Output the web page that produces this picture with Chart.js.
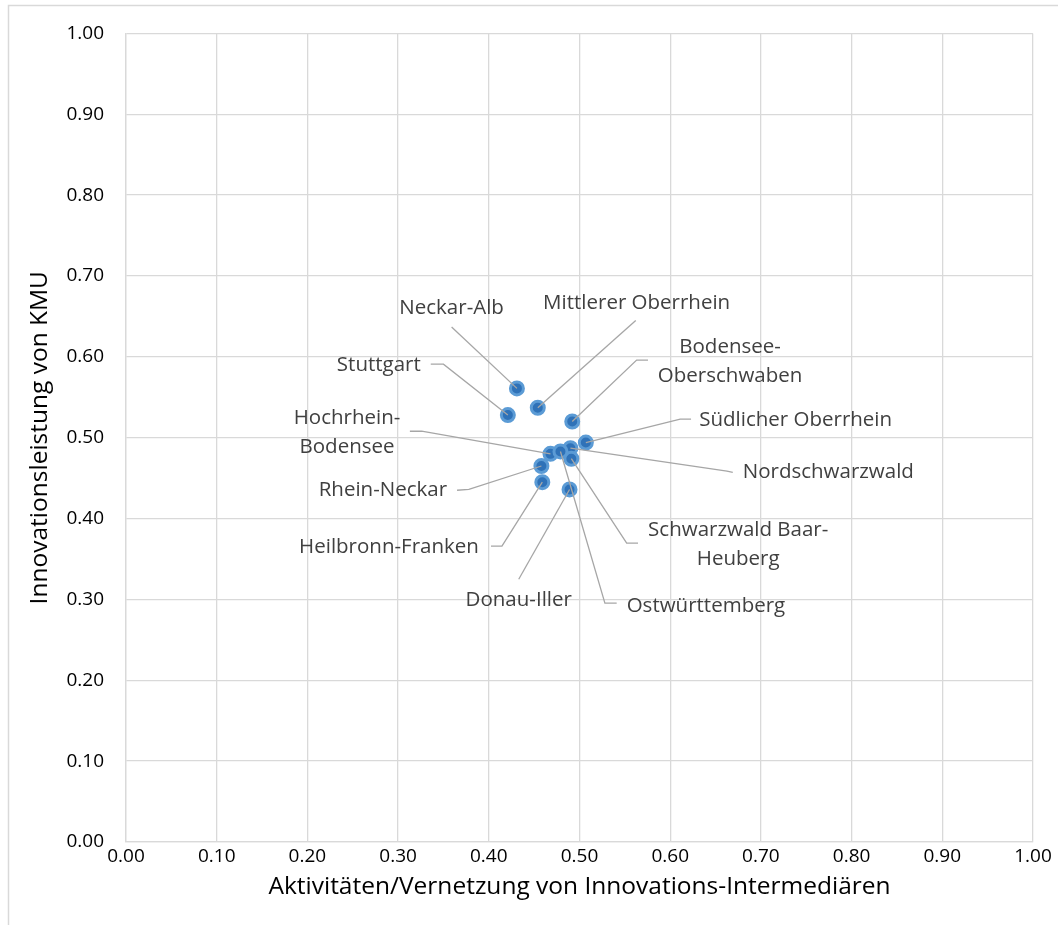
<!DOCTYPE html>
<html>
<head>
<meta charset="utf-8">
<script src="https://cdn.jsdelivr.net/npm/chart.js@4/dist/chart.umd.min.js"></script>
<style>
  body { margin: 0; background: #fff; }
  #wrap { width: 1058px; height: 925px; position: relative; }
</style>
</head>
<body>
<div id="wrap"><canvas id="chart" width="1058" height="925"></canvas></div>
<script>
// Regions of Baden-Württemberg
const regions = [
    'Stuttgart', 'Heilbronn-Franken', 'Rhein-Neckar', 'Mittlerer Oberrhein',
    'Nordschwarzwald', 'Südlicher Oberrhein', 'Schwarzwald Baar-Heuberg', 'Hochrhein-Bodensee',
    'Neckar-Alb', 'Bodensee-Oberschwaben', 'Donau-Iller', 'Ostwürttemberg'
];
// Aktivitäten/Vernetzung von Innovations-Intermediären
const intermediaries = [0.421, 0.459, 0.458, 0.454, 0.490, 0.507, 0.491, 0.468, 0.431, 0.492, 0.489, 0.479];
// Innovationsleistung von KMU
const performance = [0.528, 0.445, 0.465, 0.537, 0.487, 0.494, 0.474, 0.480, 0.561, 0.520, 0.436, 0.483];
const tickValues = [0, 0.1, 0.2, 0.3, 0.4, 0.5, 0.6, 0.7, 0.8, 0.9, 1.0];

// label placement (in data units), with the leader line bend points
const labelPlacement = {
    'Stuttgart': { lines: ['Stuttgart'], x: 0.325, y: 0.590, align: 'right', leader: [[0.336, 0.591], [0.350, 0.591]] },
    'Heilbronn-Franken': { lines: ['Heilbronn-Franken'], x: 0.389, y: 0.365, align: 'right', leader: [[0.4024, 0.366], [0.4145, 0.366]] },
    'Rhein-Neckar': { lines: ['Rhein-Neckar'], x: 0.354, y: 0.435, align: 'right', leader: [[0.365, 0.435], [0.378, 0.436]] },
    'Mittlerer Oberrhein': { lines: ['Mittlerer Oberrhein'], x: 0.563, y: 0.667, align: 'center', leader: [[0.562, 0.645]] },
    'Nordschwarzwald': { lines: ['Nordschwarzwald'], x: 0.680, y: 0.457, align: 'left', leader: [[0.669, 0.457], [0.6626, 0.4586]] },
    'Südlicher Oberrhein': { lines: ['Südlicher Oberrhein'], x: 0.632, y: 0.522, align: 'left', leader: [[0.623, 0.523], [0.611, 0.523]] },
    'Schwarzwald Baar-Heuberg': { lines: ['Schwarzwald Baar-', 'Heuberg'], x: 0.675, y: 0.368, align: 'center', leader: [[0.5645, 0.3696], [0.552, 0.3696]] },
    'Hochrhein-Bodensee': { lines: ['Hochrhein-', 'Bodensee'], x: 0.2437, y: 0.5068, align: 'center', leader: [[0.313, 0.508], [0.326, 0.508]] },
    'Neckar-Alb': { lines: ['Neckar-Alb'], x: 0.359, y: 0.660, align: 'center', leader: [[0.359, 0.637]] },
    'Bodensee-Oberschwaben': { lines: ['Bodensee-', 'Oberschwaben'], x: 0.666, y: 0.594, align: 'center', leader: [[0.5755, 0.596], [0.563, 0.596]] },
    'Donau-Iller': { lines: ['Donau-Iller'], x: 0.433, y: 0.299, align: 'center', leader: [[0.433, 0.325]] },
    'Ostwürttemberg': { lines: ['Ostwürttemberg'], x: 0.552, y: 0.292, align: 'left', leader: [[0.541, 0.2954], [0.528, 0.2954]] }
};

const FONT = '"Open Sans", "Liberation Sans", sans-serif';
const LABEL_SIZE = 20.5;
const LINE_HEIGHT = 29;

const points = regions.map((r, i) => ({ x: intermediaries[i], y: performance[i], label: r }));

// outer frame like the spreadsheet chart area
const framePlugin = {
    id: 'frame',
    beforeDraw(chart) {
        const ctx = chart.ctx;
        ctx.save();
        ctx.fillStyle = '#fff';
        ctx.fillRect(0, 0, chart.width, chart.height);
        ctx.strokeStyle = '#d9d9d9';
        ctx.lineWidth = 1.5;
        ctx.beginPath();
        ctx.moveTo(8.5, chart.height + 2);
        ctx.lineTo(8.5, 5.5);
        ctx.lineTo(chart.width + 2, 5.5);
        ctx.stroke();
        ctx.restore();
    }
};

// data labels with leader lines
const labelPlugin = {
    id: 'leaderLabels',
    afterDatasetsDraw(chart) {
        const ctx = chart.ctx;
        const xs = chart.scales.x, ys = chart.scales.y;
        ctx.save();
        ctx.font = `${LABEL_SIZE}px ${FONT}`;
        ctx.textBaseline = 'middle';
        points.forEach(p => {
            const lp = labelPlacement[p.label];
            if (!lp) return;
            // leader line
            ctx.strokeStyle = '#a6a6a6';
            ctx.lineWidth = 1.3;
            ctx.beginPath();
            ctx.moveTo(xs.getPixelForValue(lp.leader[0][0]), ys.getPixelForValue(lp.leader[0][1]));
            lp.leader.slice(1).forEach(pt => ctx.lineTo(xs.getPixelForValue(pt[0]), ys.getPixelForValue(pt[1])));
            ctx.lineTo(xs.getPixelForValue(p.x), ys.getPixelForValue(p.y));
            ctx.stroke();
            // text
            ctx.fillStyle = '#404040';
            ctx.textAlign = lp.align;
            const cx = xs.getPixelForValue(lp.x);
            const cy = ys.getPixelForValue(lp.y);
            const top = cy - (lp.lines.length - 1) * LINE_HEIGHT / 2;
            lp.lines.forEach((line, i) => ctx.fillText(line, cx, top + i * LINE_HEIGHT));
        });
        ctx.restore();
    }
};

const ctx = document.getElementById('chart').getContext('2d');
new Chart(ctx, {
    type: 'scatter',
    data: {
        datasets: [{
            label: 'Regionen',
            data: points,
            backgroundColor: '#2f72b8',
            borderColor: '#5b9bd5',
            borderWidth: 3,
            pointRadius: 6.5,
            pointHoverRadius: 6.5
        }]
    },
    options: {
        responsive: false,
        animation: false,
        layout: { padding: { top: 33, right: 25, left: 0, bottom: 0 } },
        plugins: {
            legend: { display: false },
            tooltip: { enabled: false }
        },
        scales: {
            x: {
                type: 'linear',
                min: 0,
                max: 1,
                afterBuildTicks: s => { s.ticks = tickValues.map(v => ({ value: v })); },
                afterFit: s => { s.height = 83; },
                grid: { color: '#d9d9d9', lineWidth: 1.3, drawTicks: false },
                border: { color: '#d9d9d9', width: 1.3 },
                ticks: {
                    padding: 3,
                    color: '#000',
                    font: { family: FONT, size: 19 },
                    callback: v => v.toFixed(2)
                },
                title: {
                    display: true,
                    text: 'Aktivitäten/Vernetzung von Innovations-Intermediären',
                    color: '#000',
                    font: { family: FONT, size: 24.5 },
                    padding: { top: 4, bottom: 23 }
                }
            },
            y: {
                type: 'linear',
                min: 0,
                max: 1,
                afterBuildTicks: s => { s.ticks = tickValues.map(v => ({ value: v })); },
                afterFit: s => { s.width = 126; },
                grid: { color: '#d9d9d9', lineWidth: 1.3, drawTicks: false },
                border: { color: '#d9d9d9', width: 1.3 },
                ticks: {
                    padding: 22,
                    color: '#000',
                    font: { family: FONT, size: 19 },
                    callback: v => v.toFixed(2)
                },
                title: {
                    display: true,
                    text: 'Innovationsleistung von KMU',
                    color: '#000',
                    font: { family: FONT, size: 24.5 },
                    padding: { top: 25, bottom: 0 }
                }
            }
        }
    },
    plugins: [framePlugin, labelPlugin]
});
</script>
</body>
</html>
